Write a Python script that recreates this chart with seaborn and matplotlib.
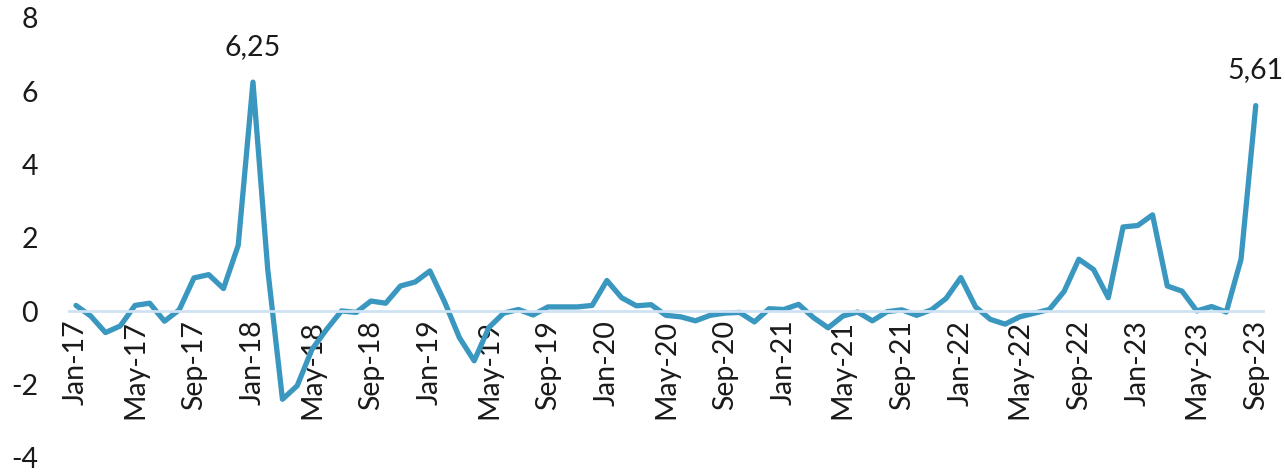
import pandas as pd
import numpy as np
import matplotlib
matplotlib.use("Agg")
import matplotlib.pyplot as plt
import seaborn as sns

# Monthly values, Jan-17 .. Sep-23
valores = [
    0.16, -0.13, -0.58, -0.40, 0.16, 0.22, -0.27, 0.04, 0.91, 1.00, 0.62, 1.80,
    6.25, 1.15, -2.40, -2.03, -1.04, -0.49, 0.01, -0.03, 0.28, 0.22, 0.69, 0.80,
    1.10, 0.25, -0.72, -1.35, -0.44, -0.05, 0.05, -0.10, 0.12, 0.12, 0.12, 0.16,
    0.84, 0.37, 0.15, 0.18, -0.11, -0.15, -0.26, -0.11, -0.05, -0.03, -0.29, 0.07,
    0.05, 0.19, -0.17, -0.45, -0.13, -0.02, -0.26, -0.01, 0.04, -0.11, 0.04, 0.35,
    0.92, 0.12, -0.22, -0.35, -0.15, -0.05, 0.05, 0.54, 1.42, 1.14, 0.37, 2.30,
    2.34, 2.63, 0.69, 0.55, 0.01, 0.13, -0.02, 1.42, 5.61,
]
meses = pd.date_range("2017-01-01", periods=len(valores), freq="MS")
rotulos = [m.strftime("%b-%y") for m in meses]
rotulos_y = [-4, -2, 0, 2, 4, 6, 8]
destaques = {"Jan-18": "6,25", "Sep-23": "5,61"}

df = pd.DataFrame({"pos": np.arange(len(valores)), "valor": valores, "mes": rotulos})

sns.set_style("white")
plt.rcParams["font.family"] = ["Lato", "DejaVu Sans"]

fig = plt.figure(figsize=(12.85, 4.72), dpi=100)
ax = fig.add_axes([0.0534, 0.0297, 0.9296, 0.9323])

sns.lineplot(data=df, x="pos", y="valor", color="#3a97bf", linewidth=3.8, ax=ax)

ax.set_xlim(-0.5, len(valores) - 0.5)
ax.set_ylim(-4, 8)

# rotulos do eixo x junto da linha do zero
for lado in ["top", "right", "left"]:
    ax.spines[lado].set_visible(False)
ax.spines["bottom"].set_position(("data", 0))
ax.spines["bottom"].set_color("#cfe2f3")
ax.spines["bottom"].set_linewidth(2)

ticks = df["pos"][::4]
ax.set_xticks(ticks)
ax.set_xticklabels(df["mes"][::4], rotation=90, fontsize=20.5, color="#1a1a1a")
ax.set_yticks(rotulos_y)
ax.set_yticklabels([str(v) for v in rotulos_y], fontsize=20.5, color="#1a1a1a")
ax.tick_params(axis="both", length=0)
ax.tick_params(axis="x", pad=6)
ax.tick_params(axis="y", pad=22)
ax.set_xlabel("")
ax.set_ylabel("")

for mes, texto in destaques.items():
    linha = df[df["mes"] == mes].iloc[0]
    ax.annotate(texto, (linha["pos"], linha["valor"]), xytext=(0, 16),
                textcoords="offset points", ha="center", va="bottom",
                fontsize=20.5, color="#1a1a1a")

plt.savefig("out.png", dpi=100)
